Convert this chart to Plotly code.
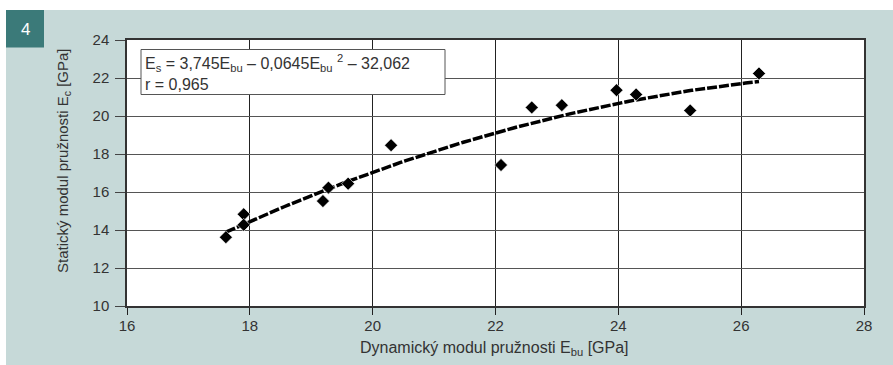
import plotly.graph_objects as go
import numpy as np

# Measured data points (dynamic modulus E_bu, static modulus E_c) [GPa]
e_bu = [17.61, 17.90, 17.90, 19.19, 19.28, 19.60, 20.30, 22.09, 22.59, 23.08, 23.97, 24.29, 25.17, 26.29]
e_c = [13.62, 14.83, 14.27, 15.52, 16.23, 16.44, 18.46, 17.42, 20.45, 20.57, 21.36, 21.13, 20.29, 22.24]

# Regression coefficients as printed on the chart: Es = a*Ebu + b*Ebu^2 + c
coef_a = 3.745
coef_b = -0.0645
coef_c = -32.062

x_ticks = [16, 18, 20, 22, 24, 26, 28]
y_ticks = [10, 12, 14, 16, 18, 20, 22, 24]

PANEL = "#c6d9d8"
TEAL = "#3b7a79"
TXT = "#333333"
FONT = "Liberation Sans, Arial, sans-serif"

xs = np.linspace(min(e_bu), max(e_bu), 120)
ys = coef_a * xs + coef_b * xs ** 2 + coef_c

fig = go.Figure()
fig.add_trace(go.Scatter(x=xs, y=ys, mode="lines",
                         line=dict(color="black", width=3.5, dash="10px,2px"),
                         hoverinfo="skip", showlegend=False))
fig.add_trace(go.Scatter(x=e_bu, y=e_c, mode="markers",
                         marker=dict(symbol="diamond", size=10, color="black",
                                     line=dict(color="white", width=0.6)),
                         showlegend=False))

W, H = 893, 365
L, R, T, B = 127, 29, 40, 59
pw, ph = W - L - R, H - T - B

def px_x(px):
    return (px - L) / pw

def px_y(py):
    return (H - B - py) / ph

shapes = [
    # white strips outside the tinted panel
    dict(type="rect", xref="paper", yref="paper", x0=px_x(0), x1=px_x(W), y0=px_y(0), y1=px_y(10),
         fillcolor="white", line=dict(width=0), layer="below"),
    dict(type="rect", xref="paper", yref="paper", x0=px_x(0), x1=px_x(6), y0=px_y(0), y1=px_y(H),
         fillcolor="white", line=dict(width=0), layer="below"),
    # number badge
    dict(type="rect", xref="paper", yref="paper", x0=px_x(6), x1=px_x(44), y0=px_y(10), y1=px_y(47.5),
         fillcolor=TEAL, line=dict(width=0), layer="above"),
    # equation box
    dict(type="rect", xref="paper", yref="paper", x0=px_x(141), x1=px_x(445), y0=px_y(49.5), y1=px_y(94.5),
         fillcolor="white", line=dict(color="#555555", width=1), layer="above"),
]

annotations = [
    dict(text="4", x=px_x(25), y=px_y(30), xref="paper", yref="paper", showarrow=False,
         font=dict(size=17, color="white", family=FONT), xanchor="center", yanchor="middle"),
    dict(text="E<sub>s</sub> = 3,745E<sub>bu</sub> – 0,0645E<sub>bu</sub> <sup>2</sup> – 32,062<br>r = 0,965",
         x=px_x(143), y=px_y(72), xref="paper", yref="paper", showarrow=False, align="left",
         font=dict(size=16, color=TXT, family=FONT), xanchor="left", yanchor="middle"),
    dict(text="Dynamický modul pružnosti E<sub>bu</sub> [GPa]", x=px_x(494), y=px_y(348),
         xref="paper", yref="paper", showarrow=False,
         font=dict(size=16, color=TXT, family=FONT), xanchor="center", yanchor="middle"),
    dict(text="Statický modul pružnosti E<sub>c</sub> [GPa]", x=px_x(63), y=px_y(161),
         xref="paper", yref="paper", showarrow=False, textangle=-90,
         font=dict(size=15, color=TXT, family=FONT), xanchor="center", yanchor="middle"),
]

fig.update_layout(
    width=W, height=H,
    margin=dict(l=L, r=R, t=T, b=B, pad=0),
    paper_bgcolor=PANEL, plot_bgcolor="white",
    font=dict(family=FONT, size=15, color=TXT),
    shapes=shapes, annotations=annotations,
    xaxis=dict(range=[16, 28], tickvals=x_ticks, ticktext=[str(v) for v in x_ticks],
               showgrid=True, gridcolor="#222222", gridwidth=1,
               showline=True, linecolor="#333333", linewidth=1.5, mirror=True,
               ticks="outside", ticklen=7, tickcolor="#222222", zeroline=False,
               ticklabelstandoff=-2,
               tickfont=dict(size=15, color=TXT)),
    yaxis=dict(range=[10, 24], tickvals=y_ticks, ticktext=[str(v) for v in y_ticks],
               showgrid=True, gridcolor="#555555", gridwidth=1,
               showline=True, linecolor="#333333", linewidth=1.5, mirror=True,
               ticks="outside", ticklen=10, tickcolor="#444444", zeroline=False,
               ticklabelstandoff=3,
               tickfont=dict(size=15, color=TXT)),
)

fig.write_html("out.html", config={"displayModeBar": False},
               post_script="document.body.style.margin='0';")
